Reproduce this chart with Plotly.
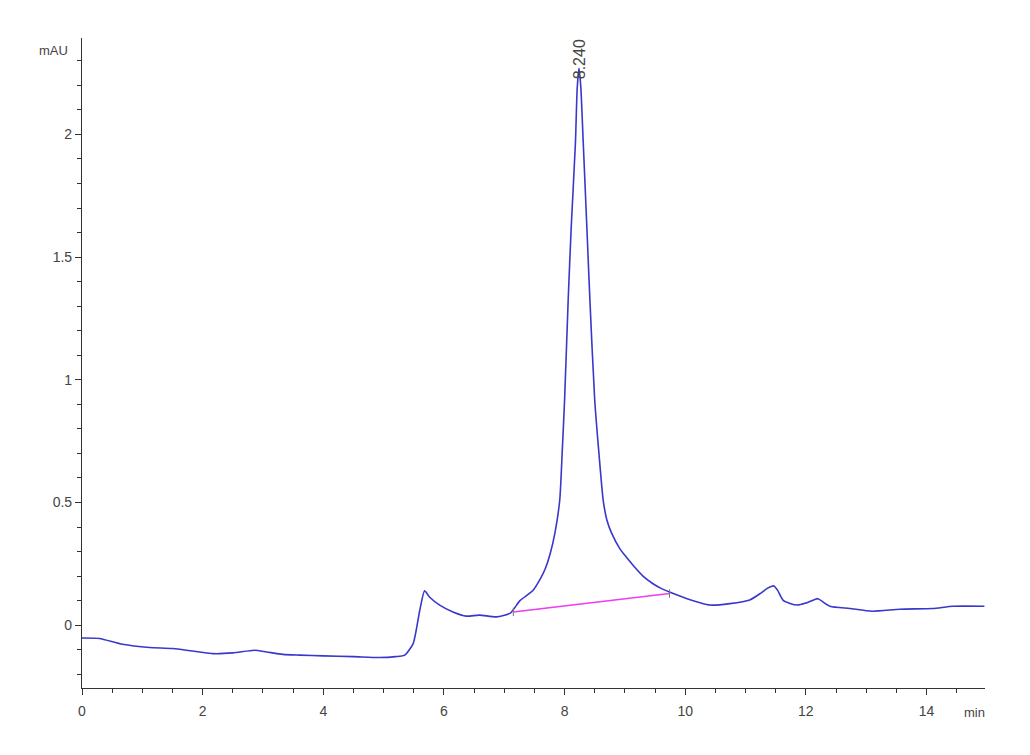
import plotly.graph_objects as go

# Chromatogram trace (time in min, absorbance in mAU)
time_min = [0.0, 0.29, 0.67, 1.12, 1.50, 1.95, 2.17, 2.50, 2.86, 3.06, 3.33, 3.61, 4.0, 4.5,
            4.93, 5.2, 5.35, 5.49, 5.60, 5.68, 5.76, 5.93, 6.15, 6.37, 6.59, 6.87, 7.10, 7.26,
            7.47, 7.60, 7.68, 7.76, 7.84, 7.92, 7.96, 8.00, 8.06, 8.11, 8.18, 8.21, 8.24, 8.27,
            8.31, 8.37, 8.42, 8.50, 8.57, 8.64, 8.70, 8.78, 8.92, 9.0, 9.15, 9.30, 9.46, 9.60,
            9.74, 10.02, 10.41, 10.74, 11.07, 11.25, 11.36, 11.47, 11.53, 11.63, 11.85, 12.0,
            12.15, 12.2, 12.40, 12.73, 13.1, 13.56, 14.1, 14.44, 14.96]
signal_mau = [-0.052, -0.054, -0.078, -0.091, -0.095, -0.109, -0.116, -0.113, -0.102, -0.109,
              -0.119, -0.122, -0.125, -0.128, -0.132, -0.128, -0.122, -0.075, 0.061, 0.14, 0.115,
              0.082, 0.054, 0.037, 0.041, 0.034, 0.049, 0.10, 0.14, 0.19, 0.23, 0.29, 0.375, 0.51,
              0.70, 0.917, 1.325, 1.62, 1.965, 2.19, 2.27, 2.19, 1.965, 1.62, 1.325, 0.917, 0.70,
              0.51, 0.43, 0.375, 0.31, 0.285, 0.24, 0.20, 0.17, 0.15, 0.135, 0.109, 0.082, 0.088,
              0.103, 0.13, 0.15, 0.16, 0.143, 0.10, 0.082, 0.09, 0.105, 0.108, 0.077, 0.068,
              0.057, 0.065, 0.068, 0.077, 0.077]

# Integration baseline
baseline_x = [7.15, 9.74]
baseline_y = [0.054, 0.129]

peak_rt = 8.240
peak_height = 2.27

x_ticks = [0, 2, 4, 6, 8, 10, 12, 14]
y_ticks = [0, 0.5, 1, 1.5, 2]
y_tick_text = ["0", "0.5", "1", "1.5", "2"]

FONT = "Liberation Sans, Arial, sans-serif"

fig = go.Figure()
fig.add_trace(go.Scatter(x=time_min, y=signal_mau, mode="lines",
                         line=dict(color="#3838cc", width=1.6, shape="spline", smoothing=0.6),
                         hoverinfo="skip"))
fig.add_trace(go.Scatter(x=baseline_x, y=baseline_y, mode="lines",
                         line=dict(color="#ee3cee", width=1.6), hoverinfo="skip"))
fig.add_trace(go.Scatter(x=baseline_x, y=baseline_y, mode="markers",
                         marker=dict(symbol="line-ns", size=6, line=dict(color="#777777", width=1)),
                         hoverinfo="skip"))

fig.add_annotation(x=peak_rt, y=peak_height, text=f"{peak_rt:.3f}", textangle=-90,
                   showarrow=False, yanchor="bottom", xanchor="center", yshift=-13,
                   font=dict(family=FONT, size=16, color="#444444"))

fig.add_annotation(xref="paper", yref="paper", x=0, xshift=-12, y=1.0, yshift=-12,
                   text="mAU", showarrow=False, xanchor="right", yanchor="middle",
                   font=dict(family=FONT, size=13, color="#444444"))
fig.add_annotation(xref="paper", yref="paper", x=1.0, xshift=2, y=0, yshift=-24, text="min",
                   showarrow=False, xanchor="right", yanchor="middle",
                   font=dict(family=FONT, size=13, color="#444444"))

axis_common = dict(showgrid=False, zeroline=False, showline=True, linecolor="#333333",
                   linewidth=1.2, ticks="outside", tickcolor="#333333", ticklen=6, tickwidth=1.2,
                   tickfont=dict(family=FONT, size=14, color="#444444"))

fig.update_layout(
    width=1022, height=747,
    margin=dict(l=74, r=45, t=30, b=67),
    paper_bgcolor="white", plot_bgcolor="white",
    showlegend=False,
    xaxis=dict(range=[0, 14.97], tickvals=x_ticks, ticklabelstandoff=4,
               minor=dict(dtick=0.5, ticks="outside", ticklen=4, tickcolor="#333333", tickwidth=1.2),
               **axis_common),
    yaxis=dict(range=[-0.256, 2.393], tickvals=y_ticks, ticktext=y_tick_text,
               minor=dict(dtick=0.1, ticks="outside", ticklen=4, tickcolor="#333333", tickwidth=1.2),
               **axis_common),
)

fig.write_html("out.html")
